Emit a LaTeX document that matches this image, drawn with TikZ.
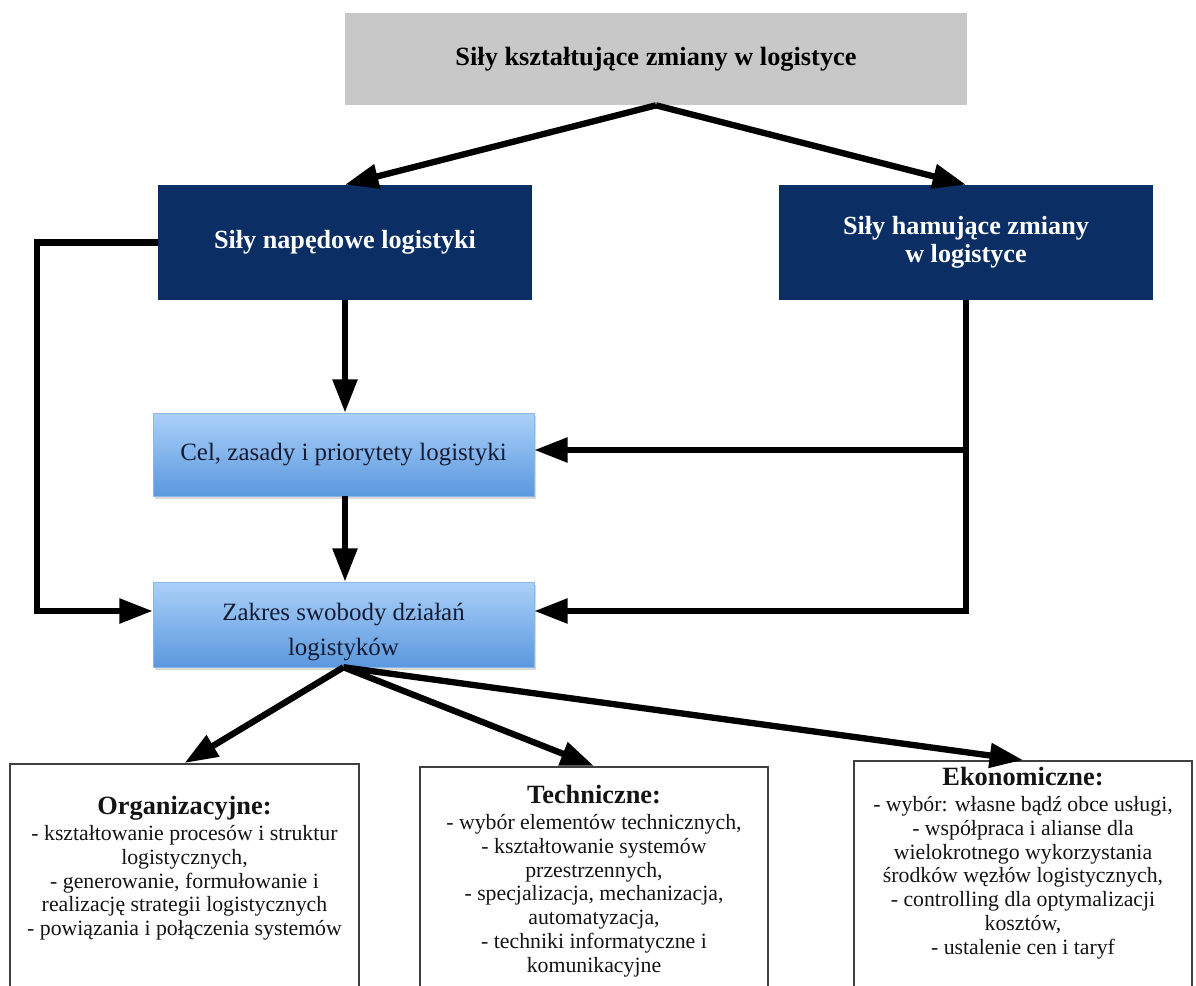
\documentclass[tikz,border=0pt]{standalone}
\usepackage{fontspec}
\setmainfont{Liberation Serif}
\usetikzlibrary{arrows.meta,shadows,calc}
\definecolor{navy}{HTML}{0B2F65}
\definecolor{grayfill}{HTML}{C8C8C8}
\definecolor{ltop}{HTML}{ABD0F8}
\definecolor{lbot}{HTML}{5A98DE}
\definecolor{ltext}{HTML}{151B33}
\tikzset{
 conn/.style={line width=3.6pt, -{Triangle[length=19pt,width=13.5pt]}},
 grayboxstyle/.style={fill=grayfill, minimum width=12.44cm, minimum height=1.84cm, inner sep=0pt, font=\bfseries\fontsize{15}{17}\selectfont},
 darkbox/.style={fill=navy, text=white, minimum width=7.48cm, minimum height=2.3cm, align=center, inner sep=0pt, font=\bfseries\fontsize{14.9}{16}\selectfont},
 lightbox/.style={top color=ltop, bottom color=lbot, draw=lbot!70!white, line width=0.3pt, drop shadow={shadow xshift=1pt, shadow yshift=-1.5pt, opacity=0.3}, minimum width=7.62cm, align=center, inner sep=0pt, text=ltext, font=\fontsize{14.2}{20}\selectfont},
 whitebox/.style={draw=black!75, line width=0.9pt, fill=white, minimum height=5cm, inner sep=0pt},
 boxtext/.style={align=center, inner sep=0pt, text=black!92, font=\fontsize{12.4}{13.6}\selectfont},
}
\newcommand{\boxhead}[1]{{\bfseries\fontsize{15}{16}\selectfont #1}}
\begin{document}
\begin{tikzpicture}[x=0.02cm,y=-0.02cm]
\useasboundingbox (0,0) rectangle (1196,986);
\clip (0,0) rectangle (1196,986);

\node[grayboxstyle] (top) at (656,59) {Siły kształtujące zmiany w logistyce};
\node[darkbox] (dl) at (345,242.5) {Siły napędowe logistyki};
\node[darkbox] (dr) at (966,242.5) {Siły hamujące zmiany\\w logistyce};
\node[lightbox, minimum height=1.66cm] (l1) at (343.5,454.5) {Cel, zasady i priorytety logistyki};
\node[lightbox, minimum height=1.7cm] (l2) at (343.5,624.5) {\rule{0pt}{18pt}Zakres swobody działań\\logistyków};

\node[whitebox, minimum width=6.98cm, anchor=north] (org) at (184.5,763) {};
\node[whitebox, minimum width=6.96cm, anchor=north] (tech) at (594,766) {};
\node[whitebox, minimum width=6.76cm, anchor=north] (ekon) at (1023,760) {};

\node[boxtext, anchor=north] (orgt) at (184.5,796) {\boxhead{Organizacyjne:}\\[1pt]
- kształtowanie procesów i struktur\\logistycznych,\\- generowanie, formułowanie i\\realizację strategii logistycznych\\- powiązania i połączenia systemów};
\node[boxtext, anchor=north] (techt) at (594,785) {\boxhead{Techniczne:}\\[1pt]
- wybór elementów technicznych,\\- kształtowanie systemów\\przestrzennych,\\- specjalizacja, mechanizacja,\\automatyzacja,\\- techniki informatyczne i\\komunikacyjne};
\node[boxtext, anchor=north] (ekont) at (1023,767) {\boxhead{Ekonomiczne:}\\[1pt]
- wybór: własne bądź obce usługi,\\- współpraca i alianse dla\\wielokrotnego wykorzystania\\środków węzłów logistycznych,\\- controlling dla optymalizacji\\kosztów,\\- ustalenie cen i taryf};

\coordinate (l1e) at ($(l1.east)+(0,-4.5)$);
\coordinate (l2w) at ($(l2.west)+(0,-13.5)$);
\coordinate (l2e) at ($(l2.east)+(0,-13.5)$);
\coordinate (rmid) at (dr.south |- l1e);

\draw[conn] (top.south) -- (dl.north);
\draw[conn] (top.south) -- (dr.north);
\draw[conn] (dl.south) -- (dl.south |- l1.north);
\draw[conn] (l1.south -| dl.south) -- (l2.north -| dl.south);
\draw[conn] (dl.west) -- ++(-121,0) |- (l2w);
\draw[conn] (dr.south) |- (l2e);
\draw[conn] (rmid) -- (l1e);
\draw[conn] (l2.south) -- (org.north);
\draw[conn] (l2.south) -- (tech.north);
\draw[conn] (l2.south) -- (ekon.north);
\end{tikzpicture}
\end{document}
